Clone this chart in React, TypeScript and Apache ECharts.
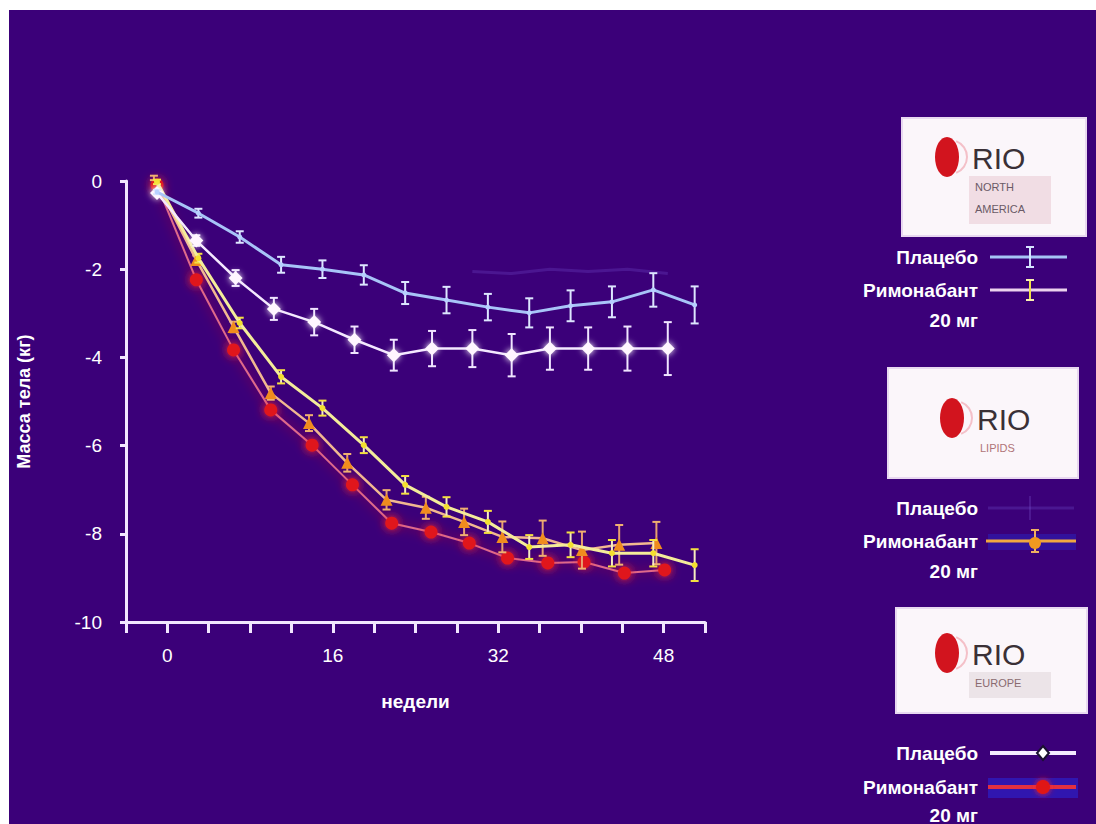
import React, { useEffect, useRef } from "react";
import * as echarts from "echarts";

// ---- data ----
const X_TICK_LABELS = ["0", "16", "32", "48"];
const Y_TICKS = [0, -2, -4, -6, -8, -10];

// RIO-North America
const WEEKS_NA = [-1, 3, 7, 11, 15, 19, 23, 27, 31, 35, 39, 43, 47, 51];
const NA_PLACEBO = [-0.25, -0.73, -1.27, -1.9, -2.0, -2.13, -2.54, -2.7, -2.86, -2.99, -2.83, -2.74, -2.47, -2.81];
const NA_PLACEBO_ERR = [0.05, 0.1, 0.13, 0.18, 0.2, 0.22, 0.25, 0.3, 0.3, 0.33, 0.35, 0.35, 0.38, 0.42];
const NA_RIMO = [-0.02, -1.75, -3.22, -4.44, -5.15, -5.99, -6.89, -7.39, -7.73, -8.3, -8.25, -8.44, -8.44, -8.71];
const NA_RIMO_ERR = [0.05, 0.1, 0.12, 0.15, 0.17, 0.18, 0.2, 0.22, 0.25, 0.27, 0.28, 0.3, 0.3, 0.36];

// RIO-Lipids
const WEEKS_LIPIDS = [-1.3, 2.8, 6.4, 10.0, 13.7, 17.4, 21.2, 25.0, 28.7, 32.4, 36.3, 40.1, 43.7, 47.3];
const LIPIDS_RIMO = [0.07, -1.79, -3.31, -4.81, -5.49, -6.39, -7.23, -7.41, -7.73, -8.07, -8.1, -8.37, -8.25, -8.21];
const LIPIDS_RIMO_ERR = [0.05, 0.1, 0.12, 0.15, 0.18, 0.2, 0.22, 0.25, 0.3, 0.35, 0.4, 0.42, 0.45, 0.48];
const WEEKS_LIPIDS_PL = [29.5, 33.3, 37.0, 40.7, 44.5, 48.4];
const LIPIDS_PLACEBO = [-2.05, -2.1, -2.0, -2.05, -2.0, -2.1];

// RIO-Europe
const WEEKS_EU = [-1, 2.8, 6.6, 10.3, 14.2, 18.1, 21.9, 25.6, 29.5, 33.3, 37.0, 40.7, 44.5, 48.4];
const EU_PLACEBO = [-0.27, -1.35, -2.2, -2.9, -3.2, -3.6, -3.95, -3.8, -3.8, -3.95, -3.8, -3.8, -3.8, -3.8];
const EU_PLACEBO_ERR = [0.05, 0.12, 0.18, 0.25, 0.3, 0.3, 0.35, 0.4, 0.42, 0.48, 0.48, 0.48, 0.5, 0.6];
const WEEKS_EU_R = [-1, 2.8, 6.4, 10.0, 14.0, 17.9, 21.7, 25.5, 29.2, 32.9, 36.8, 40.3, 44.2, 48.1];
const EU_RIMO = [-0.09, -2.24, -3.83, -5.19, -5.99, -6.89, -7.76, -7.96, -8.21, -8.55, -8.66, -8.64, -8.89, -8.82];

const LABEL_PLACEBO = "Плацебо";
const LABEL_RIMO = "Римонабант";
const LABEL_DOSE = "20 мг";

const BG = "#3b0079";
const FONT = "'Liberation Sans', Arial, sans-serif";

function pairs(xs: number[], ys: number[]) {
  return xs.map((x, i) => [x, ys[i]]);
}

function errSeries(xs: number[], ys: number[], errs: number[], color: string, capColor: string, z: number) {
  return {
    type: "custom",
    z,
    silent: true,
    data: xs.map((x, i) => [x, ys[i] - errs[i], ys[i] + errs[i]]),
    encode: { x: 0, y: [1, 2] },
    renderItem: (params: any, api: any) => {
      const x = api.value(0);
      const lo = api.coord([x, api.value(1)]);
      const hi = api.coord([x, api.value(2)]);
      const c = 4;
      return {
        type: "group",
        children: [
          { type: "line", shape: { x1: lo[0], y1: lo[1], x2: hi[0], y2: hi[1] }, style: { stroke: color, lineWidth: 2 } },
          { type: "line", shape: { x1: lo[0] - c, y1: lo[1], x2: lo[0] + c, y2: lo[1] }, style: { stroke: capColor, lineWidth: 2 } },
          { type: "line", shape: { x1: hi[0] - c, y1: hi[1], x2: hi[0] + c, y2: hi[1] }, style: { stroke: capColor, lineWidth: 2 } },
        ],
      };
    },
  };
}

function legendText(text: string, x: number, y: number) {
  return {
    type: "text",
    x,
    y,
    style: { text, fill: "#ffffff", font: `bold 19px ${FONT}`, align: "right", verticalAlign: "middle" },
  };
}

function logoBox(x: number, y: number, w: number, h: number, sub: string[], subColor: string, subBg: string | null, ex: number, ey: number) {
  const children: any[] = [
    { type: "rect", shape: { x, y, width: w, height: h }, style: { fill: "#fbf6fa", stroke: "#e8d8f0", lineWidth: 2 } },
  ];
  if (subBg) {
    children.push({ type: "rect", shape: { x: ex + 22, y: ey + 19, width: 82, height: sub.length * 22 + 4 }, style: { fill: subBg } });
  }
  children.push(
    { type: "ellipse", shape: { cx: ex, cy: ey, rx: 12, ry: 20 }, style: { fill: "#d2141e" } },
    { type: "arc", shape: { cx: ex + 3, cy: ey, r: 17, startAngle: -1.2, endAngle: 1.2 }, style: { stroke: "#f4c0c8", lineWidth: 2, fill: null } },
    {
      type: "text",
      x: ex + 25,
      y: ey + 1,
      style: { text: "RIO", fill: "#3a3036", font: `30px ${FONT}`, verticalAlign: "middle", align: "left" },
    }
  );
  sub.forEach((s, i) => {
    children.push({
      type: "text",
      x: ex + 28,
      y: ey + 30 + i * 22,
      style: { text: s, fill: subColor, font: `11px ${FONT}`, verticalAlign: "middle", align: "left" },
    });
  });
  return { type: "group", children };
}

function errGlyph(x: number, y: number, half: number, color: string, capColor: string) {
  return [
    { type: "line", shape: { x1: x, y1: y - half, x2: x, y2: y + half }, style: { stroke: color, lineWidth: 2 } },
    { type: "line", shape: { x1: x - 4, y1: y - half, x2: x + 4, y2: y - half }, style: { stroke: capColor, lineWidth: 2 } },
    { type: "line", shape: { x1: x - 4, y1: y + half, x2: x + 4, y2: y + half }, style: { stroke: capColor, lineWidth: 2 } },
  ];
}

export default function App() {
  const ref = useRef<HTMLDivElement>(null);

  useEffect(() => {
    if (!ref.current) return;
    const chart = echarts.init(ref.current, undefined, { renderer: "svg" });

    const legendChildren: any[] = [
      logoBox(894, 110, 184, 118, ["NORTH", "AMERICA"], "#6a5a66", "#f1dde4", 939, 149),
      logoBox(880, 360, 190, 110, ["LIPIDS"], "#b07478", null, 944, 410),
      logoBox(888, 600, 191, 105, ["EUROPE"], "#8a6a70", "#ece4e8", 939, 645),
      legendText(LABEL_PLACEBO, 970, 249),
      legendText(LABEL_RIMO, 970, 282),
      legendText(LABEL_DOSE, 970, 312),
      legendText(LABEL_PLACEBO, 970, 500),
      legendText(LABEL_RIMO, 970, 533),
      legendText(LABEL_DOSE, 970, 563),
      legendText(LABEL_PLACEBO, 970, 745),
      legendText(LABEL_RIMO, 970, 779),
      legendText(LABEL_DOSE, 970, 807),
      { type: "line", shape: { x1: 982, y1: 249, x2: 1059, y2: 249 }, style: { stroke: "#a6c4f6", lineWidth: 3 } },
      ...errGlyph(1022, 249, 10, "#d6e4ff", "#d6e4ff"),
      { type: "line", shape: { x1: 982, y1: 282, x2: 1059, y2: 282 }, style: { stroke: "#ecd2ee", lineWidth: 3 } },
      ...errGlyph(1022, 282, 10, "#f2e24a", "#f8f0b0"),
      { type: "line", shape: { x1: 980, y1: 500, x2: 1066, y2: 500 }, style: { stroke: "rgba(120,90,220,0.25)", lineWidth: 3 } },
      { type: "line", shape: { x1: 1022, y1: 488, x2: 1022, y2: 512 }, style: { stroke: "rgba(140,110,230,0.22)", lineWidth: 2 } },
      { type: "rect", shape: { x: 980, y: 526, width: 88, height: 16 }, style: { fill: "rgba(40,40,200,0.45)" } },
      { type: "line", shape: { x1: 978, y1: 533, x2: 1068, y2: 533 }, style: { stroke: "#f0a840", lineWidth: 3 } },
      ...errGlyph(1027, 533, 11, "#f0b060", "#f0b060"),
      { type: "circle", shape: { cx: 1027, cy: 535, r: 6 }, style: { fill: "#f09a20" } },
      { type: "line", shape: { x1: 982, y1: 745, x2: 1068, y2: 745 }, style: { stroke: "#f4eaff", lineWidth: 4 } },
      { type: "polygon", shape: { points: [[1035, 738], [1041, 745], [1035, 752], [1029, 745]] }, style: { fill: "#ffffff", stroke: "#1a1030", lineWidth: 2 } },
      { type: "rect", shape: { x: 980, y: 770, width: 90, height: 20 }, style: { fill: "rgba(40,40,220,0.55)" } },
      { type: "line", shape: { x1: 980, y1: 779, x2: 1068, y2: 779 }, style: { stroke: "#e23040", lineWidth: 4 } },
      { type: "circle", shape: { cx: 1035, cy: 779, r: 7 }, style: { fill: "#e01818", shadowBlur: 6, shadowColor: "#ff2020" } },
    ];

    const graphics: any[] = [
      { type: "rect", z: -10, shape: { x: 0, y: 0, width: 1200, height: 10 }, style: { fill: "#ffffff" } },
      { type: "rect", z: -10, shape: { x: 0, y: 0, width: 9, height: 900 }, style: { fill: "#ffffff" } },
      { type: "group", x: 8, y: 8, children: legendChildren },
    ];

    const option: any = {
      animation: false,
      backgroundColor: "transparent",
      textStyle: { fontFamily: FONT },
      grid: { left: 126, right: 391, top: 181, bottom: 202, containLabel: false },
      xAxis: {
        type: "value",
        min: -4,
        max: 52,
        interval: 4,
        name: "недели",
        nameLocation: "middle",
        nameGap: 70,
        nameTextStyle: { color: "#ffffff", fontSize: 19, fontWeight: "bold", fontFamily: FONT },
        axisLine: { show: true, onZero: false, lineStyle: { color: "#f2e6ff", width: 3 } },
        axisTick: { show: true, length: 11, lineStyle: { color: "#f2e6ff", width: 3 } },
        axisLabel: {
          color: "#ffffff",
          fontSize: 19,
          fontFamily: FONT,
          margin: 24,
          formatter: (v: number) => (X_TICK_LABELS.includes(String(v)) ? String(v) : ""),
        },
        splitLine: { show: false },
      },
      yAxis: {
        type: "value",
        min: -10,
        max: 0,
        interval: 2,
        name: "Масса тела (кг)",
        nameLocation: "middle",
        nameGap: 93,
        nameRotate: 90,
        nameTextStyle: { color: "#ffffff", fontSize: 18, fontWeight: "bold", fontFamily: FONT },
        axisLine: { show: true, onZero: false, lineStyle: { color: "#f2e6ff", width: 3 } },
        axisTick: { show: true, length: 6, lineStyle: { color: "#f2e6ff", width: 3 } },
        axisLabel: {
          color: "#ffffff",
          fontSize: 19,
          fontFamily: FONT,
          margin: 24,
          formatter: (v: number) => (Y_TICKS.includes(v) ? String(v) : ""),
        },
        splitLine: { show: false },
      },
      graphic: graphics,
      series: [
        {
          type: "line",
          z: 1,
          data: pairs(WEEKS_LIPIDS_PL, LIPIDS_PLACEBO),
          symbol: "none",
          lineStyle: { color: "rgba(130,100,230,0.22)", width: 3 },
        },
        {
          type: "line",
          z: 2,
          data: pairs(WEEKS_EU_R, EU_RIMO),
          symbol: "circle",
          symbolSize: 13,
          itemStyle: { color: "#e0161c", shadowBlur: 10, shadowColor: "#ff2a2a" },
          lineStyle: { color: "#e06a8a", width: 2, shadowBlur: 12, shadowColor: "rgba(255,30,30,0.7)" },
        },
        errSeries(WEEKS_LIPIDS, LIPIDS_RIMO, LIPIDS_RIMO_ERR, "#e8a070", "#f0b070", 3),
        {
          type: "line",
          z: 4,
          data: pairs(WEEKS_LIPIDS, LIPIDS_RIMO),
          symbol: "triangle",
          symbolSize: 12,
          itemStyle: { color: "#f08c1e" },
          lineStyle: { color: "#f2b890", width: 2.5 },
        },
        errSeries(WEEKS_NA, NA_RIMO, NA_RIMO_ERR, "#f6ecc0", "#f4e040", 5),
        {
          type: "line",
          z: 6,
          data: pairs(WEEKS_NA, NA_RIMO),
          symbol: "circle",
          symbolSize: 6,
          itemStyle: { color: "#f4e030" },
          lineStyle: { color: "#f4ec9a", width: 3 },
        },
        errSeries(WEEKS_EU, EU_PLACEBO, EU_PLACEBO_ERR, "#f0e4ff", "#f0e4ff", 7),
        {
          type: "line",
          z: 8,
          data: pairs(WEEKS_EU, EU_PLACEBO),
          symbol: "diamond",
          symbolSize: 14,
          itemStyle: { color: "#fff6ff", shadowBlur: 6, shadowColor: "#ffffff" },
          lineStyle: { color: "#f4e8ff", width: 2.5 },
        },
        errSeries(WEEKS_NA, NA_PLACEBO, NA_PLACEBO_ERR, "#dde6ff", "#dde6ff", 9),
        {
          type: "line",
          z: 10,
          data: pairs(WEEKS_NA, NA_PLACEBO),
          symbol: "circle",
          symbolSize: 5,
          itemStyle: { color: "#b8d0ff" },
          lineStyle: { color: "#a8c4f8", width: 3 },
        },
      ],
    };

    chart.setOption(option);
    return () => chart.dispose();
  }, []);

  return (
    <div
      ref={ref}
      style={{ position: "absolute", left: 0, top: 0, width: 1096, height: 824, background: BG }}
    />
  );
}
